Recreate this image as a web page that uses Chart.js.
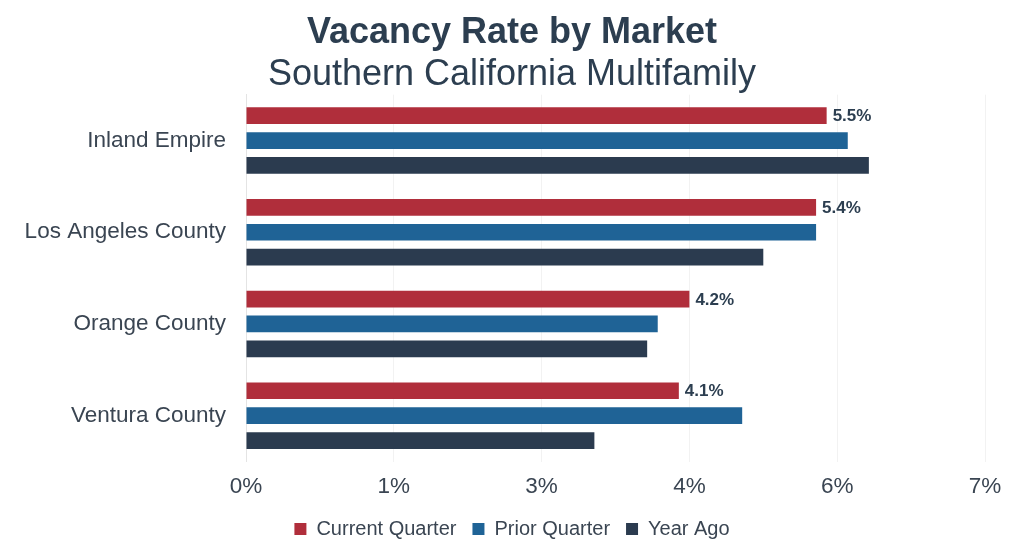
<!DOCTYPE html>
<html>
<head>
<meta charset="utf-8">
<script src="https://cdn.jsdelivr.net/npm/chart.js@4/dist/chart.umd.min.js"></script>
<style>
  html, body { margin: 0; padding: 0; background: #fff; }
  .chart-box { width: 1024px; height: 550px; }
</style>
</head>
<body>
<div class="chart-box"><canvas id="vacancy-chart"></canvas></div>
<script>
const markets = ['Inland Empire', 'Los Angeles County', 'Orange County', 'Ventura County'];
const seriesNames = ['Current Quarter', 'Prior Quarter', 'Year Ago'];
const currentQuarter = [5.5, 5.4, 4.2, 4.1];
const priorQuarter = [5.7, 5.4, 3.9, 4.7];
const yearAgo = [5.9, 4.9, 3.8, 3.3];
const axisMax = 7;
const axisStep = 1.4;

const seriesColors = ['#b02e3b', '#1f6396', '#2b3b4f'];
const textColor = '#2c3e50';
const tickColor = '#3a4552';
const fontFamily = '"Liberation Sans", Arial, sans-serif';

// labels on the current quarter bars only
const currentLabels = {
  id: 'currentLabels',
  afterDatasetsDraw(chart) {
    const ctx = chart.ctx;
    const meta = chart.getDatasetMeta(0);
    ctx.save();
    ctx.font = 'bold 17px ' + fontFamily;
    ctx.fillStyle = textColor;
    ctx.textAlign = 'left';
    ctx.textBaseline = 'middle';
    meta.data.forEach((bar, i) => {
      ctx.fillText(currentQuarter[i].toFixed(1) + '%', bar.x + 6, bar.y + 1);
    });
    ctx.restore();
  },
};

const buildDatasets = () => [currentQuarter, priorQuarter, yearAgo].map((values, i) => ({
  label: seriesNames[i],
  data: values,
  backgroundColor: seriesColors[i],
  borderWidth: 0,
  categoryPercentage: 0.815,
  barPercentage: 0.67,
}));

new Chart(document.getElementById('vacancy-chart'), {
  type: 'bar',
  data: {
    labels: markets,
    datasets: buildDatasets(),
  },
  plugins: [currentLabels],
  options: {
    indexAxis: 'y',
    responsive: true,
    maintainAspectRatio: false,
    animation: false,
    layout: {
      padding: { left: 0, right: 0, top: 0, bottom: 1 },
    },
    plugins: {
      title: {
        display: true,
        text: 'Vacancy Rate by Market',
        color: textColor,
        font: { family: fontFamily, size: 36, weight: 'bold', lineHeight: 1.1 },
        padding: { top: 13, bottom: 0 },
      },
      subtitle: {
        display: true,
        text: 'Southern California Multifamily',
        color: textColor,
        font: { family: fontFamily, size: 36, weight: 'normal', lineHeight: 1.1 },
        padding: { top: 2.5, bottom: 0 },
      },
      legend: {
        position: 'bottom',
        labels: {
          color: tickColor,
          font: { family: fontFamily, size: 20 },
          boxWidth: 12,
          boxHeight: 12,
          padding: 16,
        },
      },
      tooltip: { enabled: false },
    },
    scales: {
      x: {
        min: 0,
        max: axisMax,
        ticks: {
          stepSize: axisStep,
          color: tickColor,
          font: { family: fontFamily, size: 22.5 },
          padding: 12,
          callback: (v) => Math.round(v) + '%',
        },
        grid: { color: '#f2f2f2', drawTicks: false },
        border: { display: false },
        afterFit: (scale) => { scale.height = 41.5; },
      },
      y: {
        ticks: {
          color: tickColor,
          font: { family: fontFamily, size: 22.5 },
          padding: 20,
        },
        grid: { display: false, drawTicks: false },
        border: { color: '#e4e4e4' },
        afterFit: (scale) => { scale.width = 246; },
      },
      // empty right margin so the chart area ends at 7% like the original
      yRight: {
        type: 'category',
        position: 'right',
        ticks: { display: false },
        grid: { display: false, drawTicks: false },
        border: { display: false },
        afterFit: (scale) => { scale.width = 39; },
      },
    },
  },
});
</script>
</body>
</html>
